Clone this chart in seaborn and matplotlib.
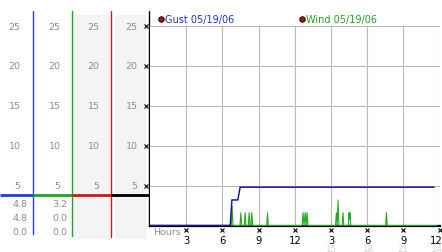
import matplotlib
matplotlib.use("Agg")
import matplotlib.pyplot as plt
import matplotlib.transforms as mtransforms
import seaborn as sns
import pandas as pd

sns.set_style("white")
plt.rcParams['font.family'] = ['DejaVu Sans']

# ---------------- data ----------------
gust_hours = [0.0, 6.65, 6.79, 7.28, 7.47, 23.55]
gust_values = [0.0, 0.0, 3.2, 3.2, 4.8, 4.8]

wind_hours = [6.70, 6.74, 6.81, 6.88, 7.46, 7.53, 7.60, 7.82, 7.89, 7.96,
              8.15, 8.22, 8.29, 8.37, 8.44, 8.51, 9.67, 9.74, 9.81,
              12.62, 12.69, 12.77, 12.86, 12.94, 13.02, 13.09,
              15.38, 15.45, 15.52, 15.59, 15.66, 15.93, 16.00, 16.07,
              16.43, 16.50, 16.54, 16.58, 16.65, 19.53, 19.60, 19.67, 23.75]
wind_values = [0, 0, 2.4, 0, 0, 1.6, 0, 0, 1.6, 0,
               0, 1.6, 0, 0, 1.6, 0, 0, 1.6, 0,
               0, 1.6, 0, 1.6, 0, 1.6, 0,
               0, 1.6, 0, 3.2, 0, 0, 1.6, 0,
               0, 1.6, 0.8, 1.6, 0, 0, 1.6, 0, 0]

x_ticks = [3, 6, 9, 12, 15, 18, 21, 24]
x_tick_labels = ["3", "6", "9", "12", "3", "6", "9", "12"]
x_faint_ticks = [15, 18, 21, 24]
x_faint_labels = ["15", "18", "21", "24"]
y_ticks = [25, 20, 15, 10, 5]

gust_max, gust_now, gust_min = "4.8", "4.8", "0.0"
wind_max, wind_now, wind_min = "3.2", "0.0", "0.0"
legend_gust = "Gust 05/19/06"
legend_wind = "Wind 05/19/06"

# ---------------- layout ----------------
W, H = 442, 253
fig = plt.figure(figsize=(W / 100, H / 100), dpi=100)
fig.patch.set_facecolor("white")
bottom = (H - 226.5) / H
height = 199.5 / H
left = 150 / W
width = 289.5 / W

axL = fig.add_axes([0, bottom, 150 / W, height])
axL.set_xlim(0, 150)
axL.set_ylim(0, 25)
axL.axis("off")

ax = fig.add_axes([left, bottom, width, height])
ax.set_xlim(0, 24)
ax.set_ylim(0, 25)

gray_txt = "#8c8c8c"
fs = 6.8

# left panel backgrounds
for x0, x1 in [(72.5, 111), (115, 145.5)]:
    axL.fill_between([x0, x1], -1.75, 26.4, color="#f4f4f4", lw=0, clip_on=False, zorder=0)

# vertical colored lines
for xv, col, y0 in [(33.2, "#1f3fd0", -1.1), (72.3, "#22a022", -1.3), (111.3, "#c02020", -1.4),
                     (149.3, "black", 0.0)]:
    axL.plot([xv, xv], [y0, 26.9], color=col, lw=1.0, clip_on=False, zorder=3)

# separator lines
sep_y = 3.78
for x0, x1, col in [(0, 33.2, "#1f3fd0"), (33.2, 72.3, "#22a022"),
                    (72.3, 111.3, "#d01818"), (111.3, 150, "black")]:
    axL.plot([x0, x1], [sep_y, sep_y], color=col, lw=2.0, clip_on=False, zorder=4,
             solid_capstyle="butt")

# y labels in each column
for xr in [20.5, 60.5, 99.5, 137.5]:
    for v in y_ticks:
        axL.text(xr, v, str(v), ha="right", va="center", fontsize=fs, color=gray_txt)
axL.plot([146.3] * len(y_ticks), y_ticks, ls="", marker="x", ms=2.2, mew=0.8,
         color="black", clip_on=False)

# stats values
for xr, vals in [(27.5, [gust_max, gust_now, gust_min]), (67.5, [wind_max, wind_now, wind_min])]:
    for yv, t in zip([2.7, 0.94, -0.81], vals):
        axL.text(xr, yv, t, ha="right", va="center", fontsize=fs, color=gray_txt)

# ---------------- main chart ----------------
grid_col = "#b8b8b8"
ax.set_xticks(x_ticks)
ax.set_yticks(y_ticks)
ax.grid(True, color=grid_col, lw=0.8)
ax.set_axisbelow(True)
for s in ["top", "right", "left"]:
    ax.spines[s].set_visible(False)
ax.spines["bottom"].set_color("black")
ax.spines["bottom"].set_linewidth(1.6)
ax.set_yticklabels([])
ax.set_xticklabels(x_tick_labels, fontsize=7.2, color="black")
ax.tick_params(axis="both", length=0)
ax.tick_params(axis="x", pad=6.5)

# nudge the last tick label so it stays inside the picture, like the reference
last_lbl = ax.get_xticklabels()[-1]
last_lbl.set_transform(last_lbl.get_transform() +
                       mtransforms.ScaledTranslation(-3 / 100, 0, fig.dpi_scale_trans))

wind_df = pd.DataFrame({"hour": wind_hours, "speed": wind_values})
gust_df = pd.DataFrame({"hour": gust_hours, "speed": gust_values})
sns.lineplot(data=wind_df, x="hour", y="speed", ax=ax, color="#22aa22", lw=0.8,
             estimator=None, sort=False, zorder=3)
sns.lineplot(data=gust_df, x="hour", y="speed", ax=ax, color="#1a1a96", lw=1.1,
             estimator=None, sort=False, zorder=4)
ax.set_xlabel("")
ax.set_ylabel("")

# small tick marks above x labels
ax.plot(x_ticks, [-0.62] * len(x_ticks), ls="", marker="x", ms=2.2, mew=0.8,
        color="black", clip_on=False)
ax.text(0.25, -0.72, "Hours", ha="left", va="center", fontsize=fs, color=gray_txt)
for h, t in zip(x_faint_ticks, x_faint_labels):
    xo = -0.25 if h == 24 else 0.0
    ax.text(h + xo, -2.85, t, ha="center", va="center", fontsize=6.3, color="#d4d4d4")

# legend
for hx, label, col in [(0.89, legend_gust, "#2030c0"), (12.6, legend_wind, "#22a022")]:
    ax.plot([hx], [25.84], marker="o", ms=4, color="#b01010", mec="black", mew=0.6,
            clip_on=False)
    ax.text(hx + 0.36, 25.9, label, ha="left", va="center", fontsize=7.0, color=col)

fig.savefig("out.png", dpi=100)
